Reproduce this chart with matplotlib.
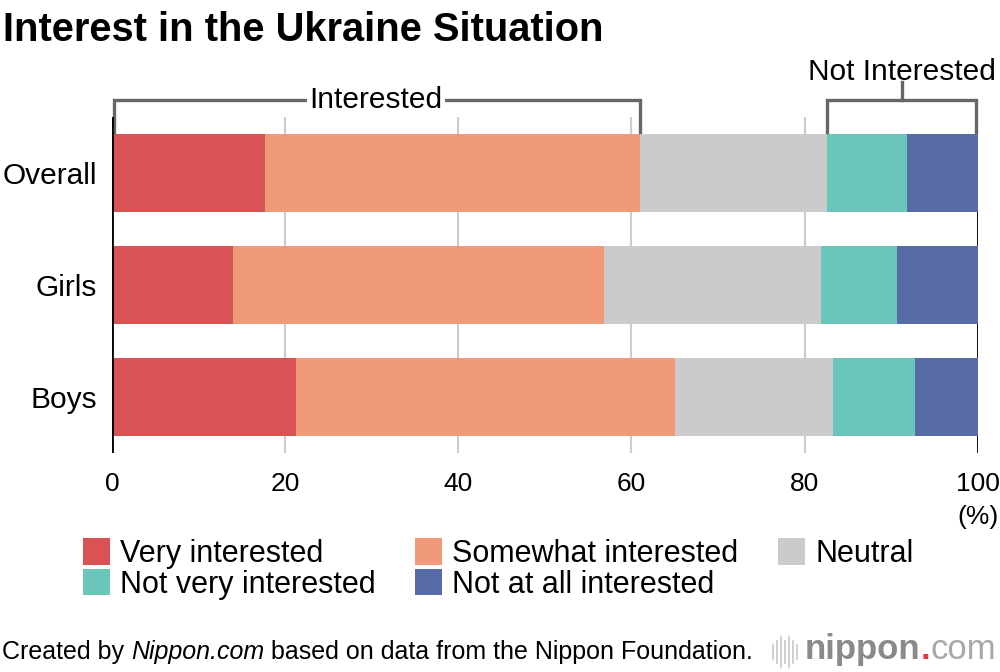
import matplotlib
matplotlib.use("Agg")
from matplotlib import pyplot as plt
from matplotlib.patches import Patch
from matplotlib.transforms import blended_transform_factory

plt.rcParams['font.family'] = ['Liberation Sans', 'DejaVu Sans']

# data (percent)
groups = ['Overall', 'Girls', 'Boys']
labels = ['Very interested', 'Somewhat interested', 'Neutral',
          'Not very interested', 'Not at all interested']
very = [17.7, 14.0, 21.2]
somewhat = [43.3, 42.8, 43.8]
neutral = [21.6, 25.1, 18.3]
not_very = [9.2, 8.8, 9.5]
not_at_all = [8.2, 9.3, 7.2]
series = [very, somewhat, neutral, not_very, not_at_all]
colors = ['#d95355', '#f19a79', '#cbcbcb', '#6ac6ba', '#576ba6']
xticks = [0, 20, 40, 60, 80, 100]

fig = plt.figure(figsize=(10, 6.72), dpi=100)
ax = fig.add_axes([0.112, 1 - 453 / 672, 0.8657, 336 / 672])

ypos = list(range(len(groups)))
left = [0.0] * len(groups)
handles = []
for vals, c, lab in zip(series, colors, labels):
    ax.barh(ypos, vals, left=left, height=0.7, color=c, zorder=2)
    left = [a + b for a, b in zip(left, vals)]
    handles.append(Patch(facecolor=c, label=lab))

ax.set_xlim(0, 100)
ax.set_ylim(2.5, -0.5)
ax.set_xticks(xticks)
ax.set_xticklabels([str(t) for t in xticks], fontsize=19)
ax.set_yticks(ypos)
ax.set_yticklabels(groups, fontsize=21.5)
ax.tick_params(length=0, pad=11)
ax.tick_params(axis='x', pad=14)
ax.grid(axis='x', color='#cccccc', lw=1.5, zorder=0)
ax.set_axisbelow(True)
for s in ax.spines.values():
    s.set_visible(False)
ax.axvline(0, color='black', lw=2, zorder=3)
ax.axvline(100, color='black', lw=2, zorder=1)
ax.text(100, -0.19, '(%)', transform=blended_transform_factory(ax.transData, ax.transAxes),
        ha='center', va='center', fontsize=19)

# brackets above the bars
tr = blended_transform_factory(ax.transData, ax.transAxes)
int_end = very[0] + somewhat[0]
notint_start = int_end + neutral[0]
bc = '#666666'
ytop, ybot = 1.05, 0.955
ax.plot([0.2, 0.2, int_end, int_end], [ybot, ytop, ytop, ybot], color=bc, lw=2.4,
        transform=tr, clip_on=False, solid_joinstyle='miter')
ax.text(int_end / 2, ytop, 'Interested', transform=tr, ha='center', va='center',
        fontsize=21.5, bbox=dict(facecolor='white', edgecolor='none', pad=2), zorder=5)
ax.plot([notint_start, notint_start, 99.8, 99.8], [ybot, ytop, ytop, ybot], color=bc,
        lw=2.4, transform=tr, clip_on=False, solid_joinstyle='miter')
mid = (notint_start + 99.8) / 2
ax.plot([mid, mid], [ytop, 1.105], color=bc, lw=2.4, transform=tr, clip_on=False)
ax.text(mid, 1.135, 'Not Interested', transform=tr, ha='center', va='center', fontsize=21.5)

fig.text(0.003, 0.983, 'Interest in the Ukraine Situation', fontsize=28.7, fontweight='bold',
         ha='left', va='top')

# legend in row order
order = [0, 3, 1, 4, 2]
fig.legend([handles[i] for i in order], [labels[i] for i in order], ncol=3,
           loc='upper left', bbox_to_anchor=(0.083, 0.199), frameon=False, fontsize=22,
           handlelength=0.88, handleheight=0.95, handletextpad=0.33, columnspacing=1.3,
           labelspacing=0.0, borderpad=0, borderaxespad=0)

# footer
renderer = fig.canvas.get_renderer()
x = 0.002
fy = 1 - 652 / 672
for txt, style in [('Created by ', 'normal'), ('Nippon.com', 'italic'),
                   (' based on data from the Nippon Foundation.', 'normal')]:
    t = fig.text(x, fy, txt, fontsize=18, style=style, ha='left', va='center')
    bb = t.get_window_extent(renderer)
    x += bb.width / 1000

# logo
for i, h in enumerate([0.022, 0.034, 0.044, 0.034, 0.044, 0.034, 0.022]):
    xx = 0.773 + i * 0.004
    fig.add_artist(plt.Line2D([xx, xx], [fy - h / 2, fy + h / 2], color='#c8c8c8', lw=1.2))
x = 0.805
for txt, col, wt in [('nippon', '#8a8a8a', 'bold'), ('.', '#e03c3c', 'bold'),
                     ('com', '#a8a8a8', 'light')]:
    t = fig.text(x, fy + 0.003, txt, fontsize=25, color=col, fontweight=wt,
                 ha='left', va='center')
    bb = t.get_window_extent(renderer)
    x += bb.width / 1000

fig.savefig('out.png', dpi=100)
